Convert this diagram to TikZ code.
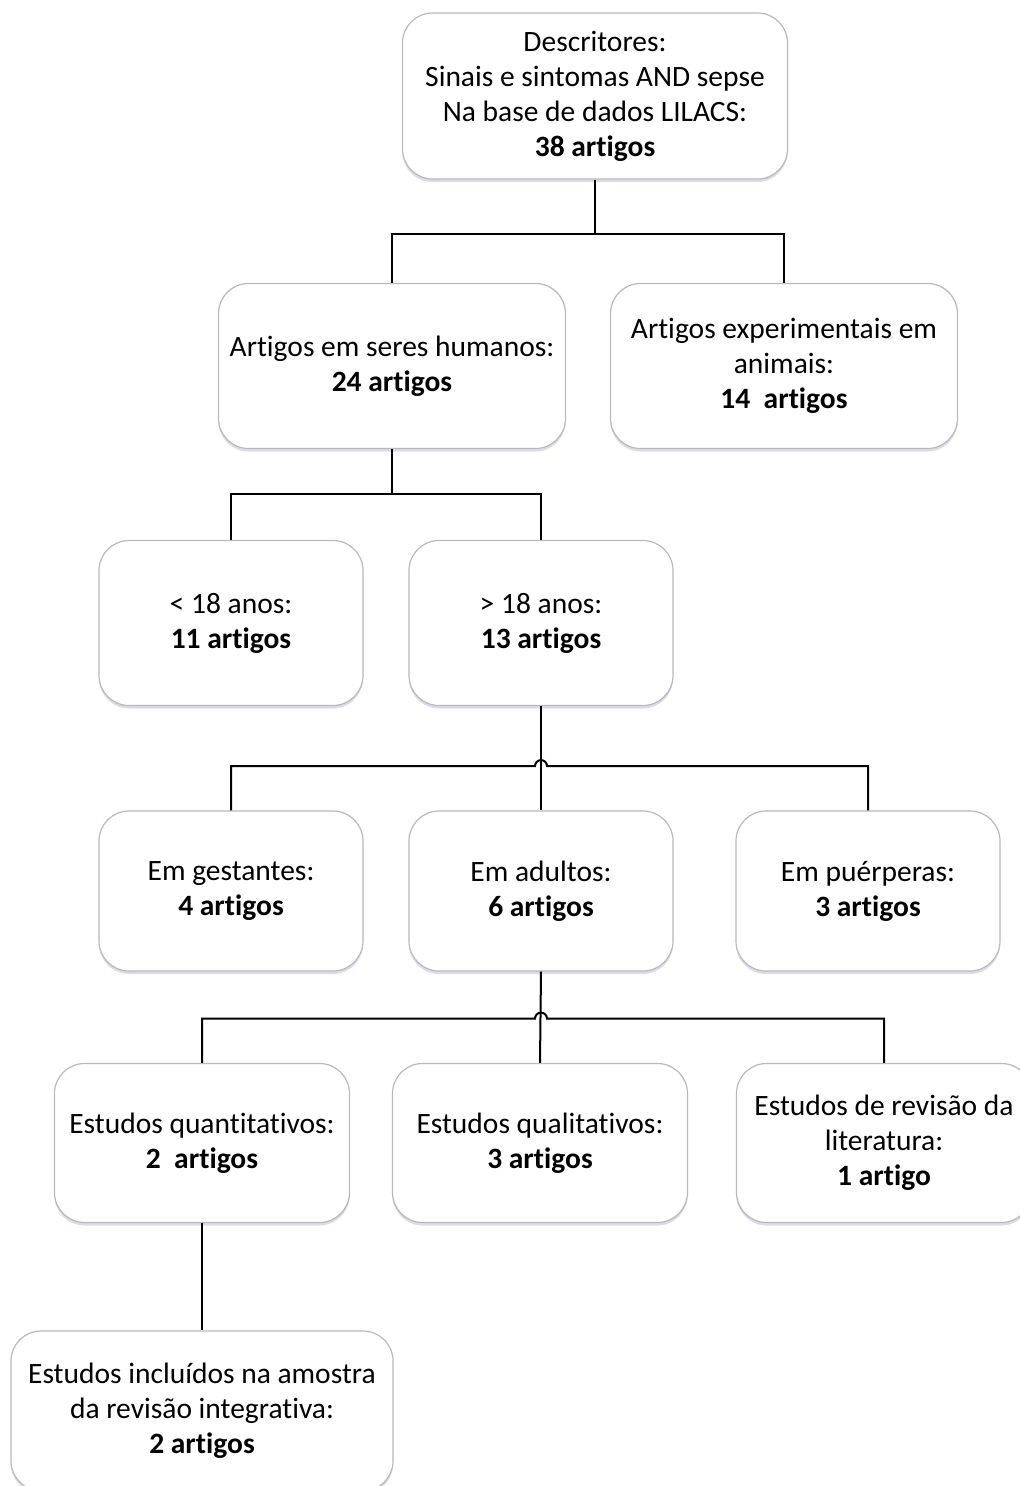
\documentclass[tikz,border=0pt]{standalone}
\usepackage{fontspec}
\setmainfont{Carlito}[Ligatures={NoCommon,NoRequired,NoContextual}, Contextuals=NoAlternate]
\usetikzlibrary{positioning, calc, shadows}
\tikzstyle{boxes} = [rectangle, rounded corners=30pt, draw=gray!55, line width=1.2pt, fill=white, align=center, font=\fontsize{29.5}{35}\selectfont, drop shadow={shadow xshift=0pt, shadow yshift=-3pt, fill=blue!35!gray!60, opacity=0.35}]
\tikzstyle{line} = [line width=2pt, black]

\begin{document}
\begin{tikzpicture}[x=1pt, y=1pt]

    \useasboundingbox (0,0) rectangle (1020,-1486);

    \node (desc) [boxes, minimum width=385pt, minimum height=166pt] at (595,-96) {Descritores:\\Sinais e sintomas AND sepse\\Na base de dados LILACS:\\\textbf{38 artigos}};

    \node (hum) [boxes, minimum width=347pt, minimum height=165pt, node distance=270pt, below of=desc, xshift=-203pt] {Artigos em seres humanos:\\\textbf{24 artigos}};

    \node (ani) [boxes, minimum width=347pt, minimum height=165pt, node distance=392pt, right of=hum] {Artigos experimentais em\\animais:\\\textbf{14~~artigos}};

    \node (menor) [boxes, minimum width=264pt, minimum height=165pt, node distance=257pt, below of=hum, xshift=-161pt] {< 18 anos:\\\textbf{11 artigos}};

    \node (maior) [boxes, minimum width=264pt, minimum height=165pt, node distance=310pt, right of=menor] {> 18 anos:\\\textbf{13 artigos}};

    \node (gest) [boxes, minimum width=264pt, minimum height=160pt, node distance=268pt, below of=menor] {Em gestantes:\\\textbf{4 artigos}};

    \node (adul) [boxes, minimum width=264pt, minimum height=160pt, node distance=310pt, right of=gest] {Em adultos:\\\textbf{6 artigos}};

    \node (puer) [boxes, minimum width=264pt, minimum height=160pt, node distance=327pt, right of=adul] {Em puérperas:\\\textbf{3 artigos}};

    \node (quant) [boxes, minimum width=295pt, minimum height=159pt, node distance=252pt, below of=gest, xshift=-29pt] {Estudos quantitativos:\\\textbf{2~~artigos}};

    \node (qual) [boxes, minimum width=295pt, minimum height=159pt, node distance=338pt, right of=quant] {Estudos qualitativos:\\\textbf{3 artigos}};

    \node (rev) [boxes, minimum width=295pt, minimum height=159pt, node distance=344pt, right of=qual] {Estudos de revisão da\\literatura:\\\textbf{1 artigo}};

    \node (incl) [boxes, minimum width=382pt, minimum height=160pt, node distance=268pt, below of=quant] {Estudos incluídos na amostra\\da revisão integrativa:\\\textbf{2 artigos}};

    \coordinate (bus1) at ($(desc.south)+(0,-54)$);
    \coordinate (bus2) at ($(hum.south)+(0,-45)$);
    \coordinate (bus3) at ($(maior.south)+(0,-60)$);
    \coordinate (bus4) at ($(adul.south)+(0,-47)$);

    \draw[line] (desc.south) -- (bus1);
    \draw[line] (hum.north) |- (bus1) -| (ani.north);

    \draw[line] (hum.south) -- (bus2);
    \draw[line] (menor.north) |- (bus2) -| (maior.north);

    \draw[line] (maior.south) -- (adul.north);
    \draw[line] (gest.north) |- ($(bus3)+(-6,0)$) arc[start angle=180, end angle=0, radius=6pt] -| (puer.north);

    \draw[line] (adul.south) -- (qual.north);
    \draw[line] (quant.north) |- ($(bus4)+(-6,0)$) arc[start angle=180, end angle=0, radius=6pt] -| (rev.north);

    \draw[line] (quant.south) -- (incl.north);

\end{tikzpicture}
\end{document}
